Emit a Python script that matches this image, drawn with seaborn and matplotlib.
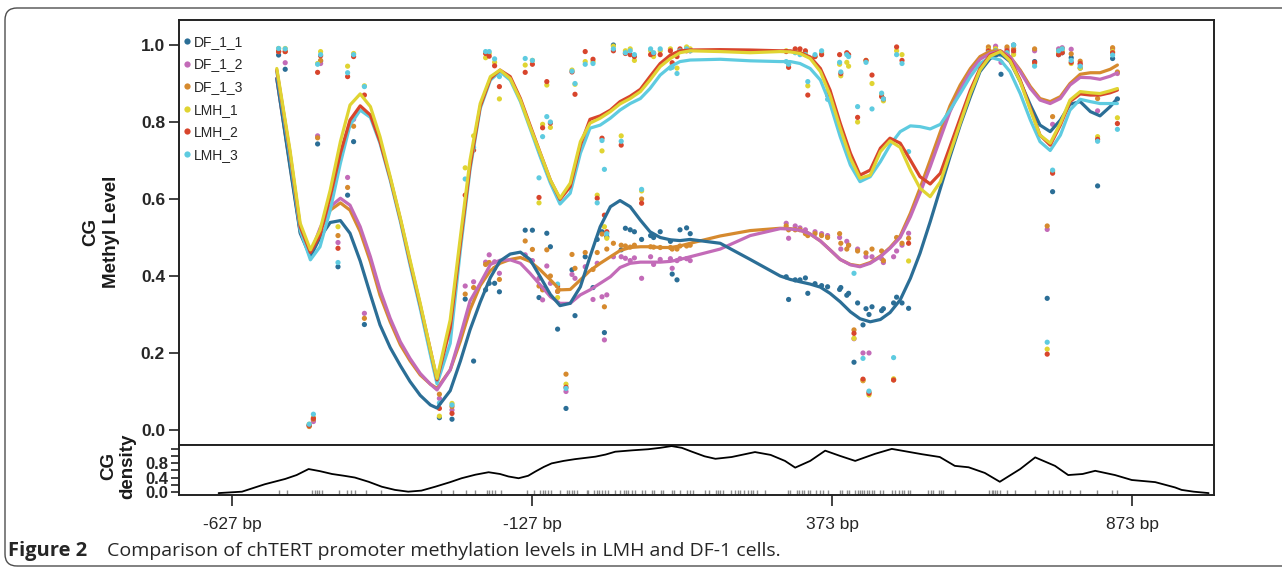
import numpy as np
import pandas as pd
import matplotlib
matplotlib.use('Agg')
import matplotlib.pyplot as plt
from matplotlib.lines import Line2D
from matplotlib.patches import FancyBboxPatch
from matplotlib.transforms import IdentityTransform
import seaborn as sns

sns.set_style('ticks')
plt.rcParams['font.family'] = ['Liberation Sans', 'DejaVu Sans']

# ── Samples and colours ───────────────────────────────────────────────
samples = ['DF_1_1', 'DF_1_2', 'DF_1_3', 'LMH_1', 'LMH_2', 'LMH_3']
colors = ['#2b6e96', '#c36bb8', '#d68a2e', '#e0d432', '#d8452c', '#5ecbe0']
palette = dict(zip(samples, colors))

# ── Smoothed methylation curves (bp, methyl level) ────────────────────
curve_pos = [-553, -531, -514, -497, -481, -464, -447, -431, -414, -397,
             -381, -364, -347, -331, -314, -297, -286, -264, -247, -231,
             -214, -197, -181, -164, -147, -131, -114, -97, -81, -64,
             -47, -31, -14, 3, 19, 36, 53, 69, 86, 103,
             119, 136, 186, 236, 286, 303, 319, 336, 353, 369,
             386, 403, 419, 436, 453, 469, 486, 503, 519, 536,
             553, 569, 586, 603, 619, 636, 653, 669, 686, 703,
             719, 736, 753, 769, 786, 803, 819, 836, 848]
curve_df11 = [0.913, 0.684, 0.511, 0.45, 0.5, 0.539, 0.544, 0.511, 0.439, 0.352,
              0.273, 0.214, 0.167, 0.126, 0.09, 0.065, 0.057, 0.102, 0.179, 0.26,
              0.332, 0.396, 0.439, 0.457, 0.462, 0.443, 0.398, 0.352, 0.323, 0.329,
              0.372, 0.45, 0.528, 0.58, 0.596, 0.58, 0.545, 0.515, 0.5, 0.494,
              0.492, 0.495, 0.485, 0.443, 0.4, 0.391, 0.385, 0.379, 0.371, 0.355,
              0.333, 0.307, 0.289, 0.281, 0.287, 0.305, 0.338, 0.394, 0.459, 0.541,
              0.628, 0.71, 0.792, 0.866, 0.931, 0.965, 0.977, 0.957, 0.905, 0.844,
              0.792, 0.775, 0.805, 0.846, 0.853, 0.827, 0.816, 0.84, 0.861]
curve_df12 = [0.913, 0.693, 0.519, 0.457, 0.524, 0.58, 0.602, 0.584, 0.528, 0.45,
              0.364, 0.29, 0.229, 0.186, 0.147, 0.119, 0.104, 0.156, 0.245, 0.335,
              0.381, 0.43, 0.441, 0.442, 0.433, 0.407, 0.377, 0.346, 0.329, 0.329,
              0.351, 0.364, 0.381, 0.398, 0.422, 0.433, 0.436, 0.436, 0.436, 0.438,
              0.443, 0.45, 0.47, 0.505, 0.523, 0.522, 0.519, 0.509, 0.491, 0.468,
              0.443, 0.429, 0.424, 0.433, 0.45, 0.472, 0.5, 0.554, 0.615, 0.684,
              0.758, 0.827, 0.883, 0.931, 0.963, 0.978, 0.984, 0.97, 0.931, 0.887,
              0.857, 0.848, 0.861, 0.896, 0.916, 0.915, 0.911, 0.919, 0.928]
curve_df13 = [0.913, 0.688, 0.515, 0.455, 0.519, 0.571, 0.59, 0.571, 0.515, 0.437,
              0.35, 0.281, 0.221, 0.18, 0.143, 0.119, 0.108, 0.156, 0.231, 0.312,
              0.375, 0.414, 0.433, 0.443, 0.448, 0.438, 0.416, 0.39, 0.364, 0.365,
              0.39, 0.414, 0.433, 0.45, 0.466, 0.474, 0.476, 0.476, 0.474, 0.474,
              0.478, 0.485, 0.504, 0.518, 0.524, 0.523, 0.519, 0.509, 0.491, 0.468,
              0.443, 0.43, 0.426, 0.435, 0.452, 0.474, 0.504, 0.563, 0.628, 0.701,
              0.775, 0.842, 0.896, 0.939, 0.97, 0.984, 0.985, 0.97, 0.935, 0.892,
              0.861, 0.853, 0.866, 0.9, 0.924, 0.928, 0.928, 0.937, 0.948]
curve_lmh1 = [0.939, 0.727, 0.537, 0.468, 0.519, 0.623, 0.749, 0.844, 0.873, 0.84,
              0.762, 0.658, 0.55, 0.442, 0.329, 0.208, 0.134, 0.286, 0.502, 0.701,
              0.848, 0.918, 0.935, 0.913, 0.857, 0.788, 0.719, 0.649, 0.602, 0.641,
              0.749, 0.797, 0.81, 0.827, 0.847, 0.861, 0.879, 0.909, 0.944, 0.965,
              0.98, 0.985, 0.983, 0.98, 0.983, 0.982, 0.978, 0.965, 0.931, 0.87,
              0.784, 0.706, 0.654, 0.662, 0.723, 0.751, 0.734, 0.675, 0.628, 0.606,
              0.645, 0.719, 0.797, 0.874, 0.935, 0.971, 0.983, 0.959, 0.905, 0.831,
              0.766, 0.745, 0.797, 0.857, 0.879, 0.876, 0.874, 0.881, 0.887]
curve_lmh2 = [0.935, 0.72, 0.528, 0.461, 0.506, 0.606, 0.719, 0.805, 0.842, 0.818,
              0.749, 0.654, 0.547, 0.437, 0.325, 0.208, 0.13, 0.265, 0.485, 0.684,
              0.84, 0.913, 0.935, 0.918, 0.861, 0.792, 0.72, 0.649, 0.599, 0.632,
              0.74, 0.807, 0.816, 0.831, 0.853, 0.867, 0.885, 0.918, 0.952, 0.974,
              0.985, 0.987, 0.988, 0.987, 0.985, 0.985, 0.98, 0.969, 0.939, 0.883,
              0.797, 0.719, 0.662, 0.675, 0.732, 0.758, 0.745, 0.701, 0.658, 0.639,
              0.667, 0.736, 0.81, 0.883, 0.939, 0.974, 0.984, 0.963, 0.909, 0.835,
              0.766, 0.74, 0.792, 0.853, 0.873, 0.87, 0.87, 0.876, 0.883]
curve_lmh3 = [0.931, 0.71, 0.519, 0.442, 0.476, 0.571, 0.693, 0.792, 0.831, 0.812,
              0.745, 0.649, 0.541, 0.429, 0.316, 0.195, 0.12, 0.225, 0.468, 0.675,
              0.835, 0.909, 0.931, 0.909, 0.853, 0.784, 0.71, 0.641, 0.587, 0.615,
              0.719, 0.784, 0.792, 0.81, 0.831, 0.848, 0.861, 0.887, 0.922, 0.944,
              0.957, 0.961, 0.963, 0.959, 0.957, 0.957, 0.952, 0.939, 0.909, 0.848,
              0.762, 0.688, 0.645, 0.658, 0.697, 0.74, 0.775, 0.79, 0.788, 0.782,
              0.794, 0.831, 0.874, 0.918, 0.952, 0.968, 0.961, 0.931, 0.874, 0.805,
              0.749, 0.726, 0.766, 0.831, 0.859, 0.853, 0.848, 0.848, 0.848]

# ── Measured CpG sites (bp, methyl level per sample) ──────────────────
site_pos = [-550, -539, -499, -492, -485, -480, -451, -435, -425, -407,
            -282, -261, -239, -225, -205, -199, -190, -182, -139, -127,
            -116, -110, -103, -97, -85, -71, -61, -56, -39, -26,
            -19, -11, -7, -3, 8, 21, 28, 36, 43, 55,
            70, 75, 86, 103, 106, 114, 119, 130, 136, 296,
            300, 311, 319, 328, 332, 344, 355, 365, 385, 387,
            397, 400, 409, 415, 424, 429, 434, 439, 455, 458,
            475, 480, 489, 500, 633, 645, 654, 664, 675, 710,
            731, 740, 750, 756, 771, 786, 815, 840, 848]
site_df11 = [0.974, 0.937, 0.012, 0.026, 0.743, 0.958, 0.424, 0.61, 0.749, 0.274,
             0.032, 0.028, 0.34, 0.179, 0.364, 0.381, 0.381, 0.359, 0.519, 0.519,
             0.344, 0.368, 0.511, 0.476, 0.262, 0.056, 0.416, 0.297, 0.45, 0.37,
             0.495, 0.515, 0.253, 0.502, 1.0, 0.468, 0.524, 0.52, 0.515, 0.495,
             0.505, 0.5, 0.515, 0.49, 0.405, 0.39, 0.52, 0.525, 0.51, 0.398,
             0.339, 0.39, 0.39, 0.395, 0.355, 0.38, 0.375, 0.372, 0.365, 0.37,
             0.35, 0.355, 0.176, 0.33, 0.273, 0.315, 0.3, 0.32, 0.31, 0.315,
             0.33, 0.345, 0.33, 0.316, 0.975, 0.98, 0.924, 0.975, 1.0, 0.957,
             0.342, 0.619, 0.975, 0.98, 0.967, 0.94, 0.634, 0.965, 0.86]
site_df12 = [0.983, 0.954, 0.012, 0.022, 0.764, 0.952, 0.487, 0.656, 0.807, 0.303,
             0.082, 0.052, 0.374, 0.385, 0.436, 0.455, 0.437, 0.407, 0.455, 0.44,
             0.394, 0.338, 0.426, 0.381, 0.36, 0.1, 0.404, 0.394, 0.424, 0.339,
             0.433, 0.346, 0.234, 0.351, 0.45, 0.45, 0.446, 0.44, 0.447, 0.394,
             0.45, 0.43, 0.443, 0.445, 0.42, 0.44, 0.445, 0.445, 0.44, 0.537,
             0.498, 0.53, 0.525, 0.52, 0.51, 0.515, 0.51, 0.505, 0.5, 0.47,
             0.49, 0.48, 0.237, 0.47, 0.2, 0.45, 0.2, 0.45, 0.445, 0.435,
             0.45, 0.465, 0.48, 0.511, 0.99, 0.997, 0.955, 0.99, 0.98, 0.985,
             0.521, 0.794, 0.99, 0.993, 0.989, 0.95, 0.829, 0.99, 0.926]
site_df13 = [0.983, 0.983, 0.009, 0.028, 0.759, 0.96, 0.505, 0.63, 0.789, 0.29,
             0.093, 0.061, 0.353, 0.37, 0.43, 0.435, 0.42, 0.391, 0.491, 0.469,
             0.374, 0.364, 0.468, 0.4, 0.36, 0.145, 0.456, 0.42, 0.461, 0.417,
             0.461, 0.509, 0.32, 0.47, 0.485, 0.48, 0.478, 0.475, 0.48, 0.6,
             0.476, 0.475, 0.474, 0.474, 0.47, 0.47, 0.478, 0.478, 0.48, 0.53,
             0.52, 0.52, 0.52, 0.51, 0.505, 0.51, 0.505, 0.5, 0.51, 0.485,
             0.47, 0.48, 0.26, 0.465, 0.128, 0.46, 0.098, 0.47, 0.465, 0.44,
             0.13, 0.5, 0.485, 0.498, 0.995, 0.99, 0.98, 0.995, 0.99, 0.99,
             0.53, 0.814, 0.985, 0.99, 0.977, 0.958, 0.861, 0.993, 0.93]
site_lmh1 = [0.991, 0.991, 0.015, 0.032, 0.952, 0.983, 0.528, 0.945, 0.978, 0.894,
             0.036, 0.069, 0.681, 0.764, 0.967, 0.978, 0.955, 0.86, 0.948, 0.96,
             0.59, 0.794, 0.896, 0.786, 0.344, 0.119, 0.935, 0.898, 0.957, 0.957,
             0.61, 0.725, 0.528, 0.498, 0.997, 0.764, 0.985, 0.99, 0.96, 0.621,
             0.985, 0.97, 0.985, 0.99, 0.95, 0.94, 0.985, 0.995, 0.99, 0.985,
             0.95, 0.985, 0.98, 0.98, 0.894, 0.97, 0.98, 0.879, 0.95, 0.92,
             0.955, 0.945, 0.238, 0.8, 0.13, 0.96, 0.091, 0.9, 0.872, 0.855,
             0.133, 0.985, 0.975, 0.439, 0.987, 0.99, 0.975, 0.98, 0.975, 0.952,
             0.21, 0.672, 0.98, 0.985, 0.952, 0.94, 0.762, 0.983, 0.811]
site_lmh2 = [0.983, 0.983, 0.012, 0.03, 0.929, 0.972, 0.472, 0.918, 0.97, 0.87,
             0.056, 0.043, 0.61, 0.727, 0.978, 0.971, 0.946, 0.892, 0.929, 0.95,
             0.604, 0.785, 0.905, 0.797, 0.374, 0.111, 0.93, 0.872, 0.983, 0.963,
             0.602, 0.758, 0.558, 0.515, 0.985, 0.74, 0.978, 0.975, 0.97, 0.589,
             0.975, 0.978, 0.975, 0.985, 0.954, 0.97, 0.99, 0.985, 0.985, 0.983,
             0.942, 0.99, 0.99, 0.985, 0.87, 0.97, 0.975, 0.87, 0.975, 0.926,
             0.98, 0.975, 0.251, 0.812, 0.132, 0.96, 0.095, 0.922, 0.866, 0.86,
             0.13, 0.995, 0.96, 0.485, 0.985, 0.985, 0.98, 0.985, 0.985, 0.955,
             0.197, 0.667, 0.975, 0.98, 0.955, 0.952, 0.755, 0.98, 0.796]
site_lmh3 = [0.991, 0.99, 0.015, 0.041, 0.95, 0.975, 0.435, 0.928, 0.975, 0.892,
             0.07, 0.065, 0.652, 0.734, 0.983, 0.983, 0.964, 0.918, 0.965, 0.96,
             0.655, 0.762, 0.814, 0.8, 0.379, 0.108, 0.932, 0.9, 0.95, 0.952,
             0.59, 0.752, 0.677, 0.51, 0.99, 0.75, 0.98, 0.985, 0.975, 0.625,
             0.99, 0.98, 0.99, 0.94, 0.942, 0.926, 0.985, 0.99, 0.985, 0.957,
             0.95, 0.98, 0.975, 0.975, 0.905, 0.975, 0.985, 0.859, 0.955, 0.93,
             0.975, 0.97, 0.407, 0.84, 0.186, 0.955, 0.101, 0.834, 0.875, 0.86,
             0.188, 0.975, 0.952, 0.723, 0.98, 0.985, 0.975, 0.98, 1.0, 0.945,
             0.228, 0.675, 0.985, 0.99, 0.96, 0.945, 0.75, 0.974, 0.781]

# ── All CpG positions (rug) and CG density curve ──────────────────────
cpg_pos = [-549, -536, -495, -490, -486, -482, -478, -449, -436, -430, -422, -405,
           -379, -280, -259, -237, -222, -203, -199, -195, -190, -179, -136, -125,
           -114, -110, -106, -101, -96, -81, -70, -66, -61, -57, -52, -36, -34, -24,
           -20, -16, -11, -6, -1, 11, 19, 25, 29, 33, 39, 44, 56, 61, 72, 76, 88, 91,
           105, 109, 119, 131, 136, 140, 161, 168, 179, 183, 186, 190, 204, 210, 215,
           219, 225, 232, 238, 241, 247, 260, 299, 303, 314, 318, 322, 326, 332, 336,
           345, 353, 358, 366, 386, 389, 397, 401, 410, 415, 419, 423, 426, 430, 434,
           439, 443, 452, 458, 473, 477, 484, 489, 493, 499, 502, 533, 537, 541, 550,
           554, 558, 577, 634, 639, 641, 644, 647, 652, 664, 677, 710, 732, 741, 750,
           755, 769, 786, 814, 839, 847]
dens_pos = [-650, -611, -573, -539, -520, -500, -481, -461, -441, -423,
            -400, -378, -356, -334, -312, -289, -264, -245, -222, -200,
            -181, -167, -150, -134, -122, -108, -95, -75, -56, -22,
            -5, 11, 40, 66, 86, 105, 122, 139, 160, 178,
            205, 244, 270, 294, 311, 336, 361, 386, 411, 444,
            472, 502, 522, 552, 577, 600, 627, 652, 686, 711,
            744, 766, 790, 811, 844, 872, 911, 944, 955, 975, 1000]
dens_val = [-0.04, 0.0, 0.21, 0.36, 0.47, 0.64, 0.58, 0.5, 0.45, 0.4,
            0.28, 0.14, 0.05, 0.0, 0.03, 0.14, 0.27, 0.38, 0.48, 0.55,
            0.5, 0.43, 0.38, 0.45, 0.57, 0.7, 0.8, 0.87, 0.92, 0.99,
            1.05, 1.13, 1.17, 1.2, 1.24, 1.29, 1.24, 1.13, 1.0, 0.93,
            0.98, 1.12, 1.04, 0.87, 0.68, 0.87, 1.16, 1.01, 0.87, 1.07,
            1.21, 1.12, 1.06, 0.98, 0.73, 0.69, 0.53, 0.28, 0.64, 0.97,
            0.73, 0.47, 0.5, 0.59, 0.47, 0.33, 0.27, 0.12, 0.05, 0.0, -0.04]

x_ticks = [-627, -127, 373, 873]
x_labels = ['-627 bp', '-127 bp', '373 bp', '873 bp']

curves = dict(zip(samples, [curve_df11, curve_df12, curve_df13,
                            curve_lmh1, curve_lmh2, curve_lmh3]))
sites = dict(zip(samples, [site_df11, site_df12, site_df13,
                           site_lmh1, site_lmh2, site_lmh3]))
points = pd.DataFrame({
    'pos': site_pos * len(samples),
    'level': sum((sites[s] for s in samples), []),
    'sample': np.repeat(samples, len(site_pos)),
})

# ── Figure layout (pixel based) ───────────────────────────────────────
W, H = 1282, 569
fig = plt.figure(figsize=(W / 100, H / 100), dpi=100)
left, right = 179, 1214
ax = fig.add_axes([left / W, 1 - 445 / H, (right - left) / W, (445 - 20) / H])
axd = fig.add_axes([left / W, 1 - 494.5 / H, (right - left) / W, 49.5 / H])

# ── Main panel: points then smoothed lines ────────────────────────────
sns.scatterplot(data=points, x='pos', y='level', hue='sample', palette=palette,
                s=14, linewidth=0, legend=False, ax=ax, zorder=2)
for s in ['DF_1_3', 'DF_1_2', 'DF_1_1', 'LMH_3', 'LMH_2', 'LMH_1']:
    sns.lineplot(x=curve_pos, y=curves[s], color=palette[s], lw=2.3,
                 errorbar=None, ax=ax, zorder=3, solid_joinstyle='round')

ax.set_xlim(-716, 1009)
ax.set_ylim(-0.039, 1.065)
ax.set_xticks([])
ax.set_yticks([0.0, 0.2, 0.4, 0.6, 0.8, 1.0])
ax.set_yticklabels(['0.0', '0.2', '0.4', '0.6', '0.8', '1.0'],
                   fontweight='bold', fontsize=12.5)
ax.set_xlabel('')
ax.set_ylabel('')
ax.tick_params(axis='y', length=7, width=1.2, color='#222222', pad=3)

handles = [Line2D([], [], ls='', marker='o', markersize=4.5, color=palette[s],
                  markeredgewidth=0) for s in samples]
ax.legend(handles, samples, loc='upper left', bbox_to_anchor=(0.0, 0.975),
          frameon=False, fontsize=10, handlelength=0.5, handletextpad=0.25,
          labelspacing=0.62, borderaxespad=0.1, borderpad=0.2)

# ── Density panel ─────────────────────────────────────────────────────
sns.lineplot(x=dens_pos, y=dens_val, color='black', lw=1.3, errorbar=None,
             ax=axd, zorder=3, solid_joinstyle='round')
sns.rugplot(x=cpg_pos, ax=axd, height=0.1, color='#8c8c8c', lw=0.8,
            expand_margins=False)
axd.set_xlim(-716, 1009)
axd.set_ylim(-0.08, 1.32)
axd.set_yticks([0.0, 0.2, 0.4, 0.6, 0.8, 1.0, 1.2])
axd.set_yticklabels(['0.0', '', '0.4', '', '0.8', '', ''],
                    fontweight='bold', fontsize=12)
axd.set_xticks(x_ticks)
axd.set_xticklabels(x_labels, fontsize=12.5)
axd.tick_params(axis='y', length=6, width=1.2, color='#222222', pad=2)
axd.tick_params(axis='x', length=8, width=1.2, color='#222222', pad=8)
axd.set_xlabel('')
axd.set_ylabel('')

for a in (ax, axd):
    for sp in a.spines.values():
        sp.set_linewidth(1.4)
        sp.set_color('#222222')

# ── Axis titles and caption ───────────────────────────────────────────
fig.text(101 / W, 1 - 232 / H, 'CG\nMethyl Level', rotation=90, ha='center',
         va='center', fontsize=13.5, fontweight='bold', linespacing=1.3,
         multialignment='center', color='#1a1a1a')
fig.text(118 / W, 1 - 466 / H, 'CG\ndensity', rotation=90, ha='center',
         va='center', fontsize=13.5, fontweight='bold', linespacing=1.15,
         multialignment='center', color='#1a1a1a')

fig.text(8 / W, 1 - 551 / H, 'Figure 2', fontweight='bold', fontsize=14.5,
         family='Open Sans', va='center', ha='left')
fig.text(107 / W, 1 - 551 / H,
         'Comparison of chTERT promoter methylation levels in LMH and DF-1 cells.',
         fontsize=14, fontweight='medium', family='Open Sans', va='center', ha='left')

frame = FancyBboxPatch((5, 3), 1320, 558, boxstyle='round,pad=0,rounding_size=12',
                       transform=IdentityTransform(), fill=False,
                       edgecolor='#4d4d4d', lw=1.0)
fig.patches.append(frame)

fig.savefig('out.png', dpi=100)
